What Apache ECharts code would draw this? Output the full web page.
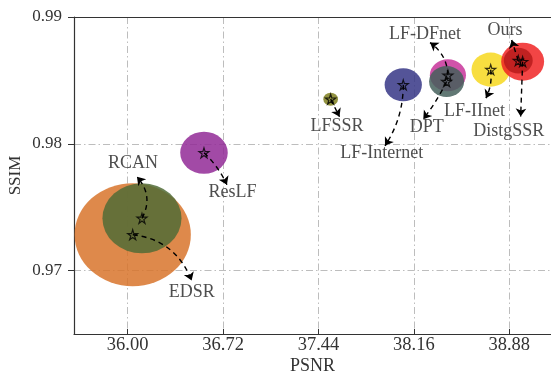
<!DOCTYPE html>
<html>
<head>
<meta charset="utf-8">
<script src="https://cdn.jsdelivr.net/npm/echarts@6/dist/echarts.min.js"></script>
<style>
  html, body { margin: 0; padding: 0; background: #fff; }
  #chart { width: 551px; height: 375px; }
</style>
</head>
<body>
<div id="chart"></div>
<script>
// Methods compared: PSNR / SSIM, bubble area ~ model size
const methods   = ['EDSR', 'RCAN', 'ResLF', 'LFSSR', 'LF-Internet', 'LF-DFnet', 'DPT', 'LF-IInet', 'DistgSSR', 'Ours'];
const psnr      = [36.038, 36.108, 36.576, 37.532, 38.080, 38.417, 38.407, 38.740, 38.981, 38.948];
const ssim      = [0.97283, 0.97412, 0.97929, 0.98352, 0.98465, 0.98541, 0.98491, 0.98585, 0.98648, 0.98656];
const modelSize = [38.9, 18.0, 6.5, 0.62, 4.0, 3.76, 3.53, 4.25, 5.3, 2.4];

// Where each method's name sits, and where its pointer arrow ends (data units)
const labelX = [36.040, 36.483, 36.791, 37.580, 37.917, 38.244, 38.257, 38.617, 38.876, 38.848];
const labelY = [0.97850, 0.96827, 0.97614, 0.98142, 0.97927, 0.98864, 0.98131, 0.98254, 0.98102, 0.98898];
const arrowX = [36.070, 36.483, 36.749, 37.599, 37.942, 38.282, 38.231, 38.704, 38.966, 38.898];
const arrowY = [0.97740, 0.96921, 0.97677, 0.98213, 0.97984, 0.98798, 0.98194, 0.98360, 0.98215, 0.98819];

const xTicks = [36.00, 36.72, 37.44, 38.16, 38.88];
const yTicks = [0.97, 0.98, 0.99];

const bubbleColors = ['#d8742c', '#516c37', '#922a96', '#7f7f1e', '#363686', '#c8349a', '#45605c', '#f7d81e', '#f02424', '#b81c1c'];
const arrowBend    = [-0.35, 0.3, 0.1, 0, 0.15, -0.25, 0.05, 0.15, 0, 0];

const labelOrder = ['RCAN', 'EDSR', 'ResLF', 'LFSSR', 'LF-Internet', 'LF-DFnet', 'DPT', 'LF-IInet', 'DistgSSR', 'Ours'];

const serif = '"Liberation Serif", "DejaVu Serif", serif';
const STAR = 'path://M50,0 L61,35 L98,35 L68,57 L79,91 L50,70 L21,91 L32,57 L2,35 L39,35 Z';

const chart = echarts.init(document.getElementById('chart'), null, { renderer: 'canvas' });

const bubbleData = methods.map((m, i) => ({
  name: m,
  value: [psnr[i], ssim[i]],
  itemStyle: { color: bubbleColors[i] }
}));

const starData = methods.map((m, i) => ({ name: m, value: [psnr[i], ssim[i]] }));

const labelData = labelOrder.map((m, i) => ({ name: m, value: [labelX[i], labelY[i]] }));

const arrowData = labelOrder.map((m, i) => {
  const k = methods.indexOf(m);
  return {
    coords: [[psnr[k], ssim[k]], [arrowX[i], arrowY[i]]],
    lineStyle: { curveness: arrowBend[i] }
  };
});

const gridDash = { color: '#bdbdbd', width: 1, type: [7, 3, 1.5, 3] };

chart.setOption({
  animation: false,
  grid: { left: 74, right: 0, top: 17, bottom: 41, containLabel: false, outerBoundsMode: 'none' },
  xAxis: [{
    type: 'value',
    min: 35.595, max: 39.195,
    name: 'PSNR', nameLocation: 'middle', nameGap: 23, nameMoveOverlap: false,
    nameTextStyle: { fontFamily: serif, fontSize: 18, color: '#333' },
    axisLine: { show: true, onZero: false, lineStyle: { color: '#333', width: 1.2 } },
    axisTick: { show: true, inside: true, length: 5, customValues: xTicks, lineStyle: { color: '#333' } },
    axisLabel: { customValues: xTicks, formatter: v => v.toFixed(2), fontFamily: serif, fontSize: 18.5, color: '#333', margin: 2 },
    splitLine: { show: true, lineStyle: gridDash }
  }, {
    type: 'value', position: 'top',
    min: 35.595, max: 39.195,
    axisLine: { show: true, onZero: false, lineStyle: { color: '#333', width: 1.2 } },
    axisTick: { show: false }, axisLabel: { show: false }, splitLine: { show: false }
  }],
  yAxis: {
    type: 'value',
    min: 0.965, max: 0.99,
    name: 'SSIM', nameLocation: 'middle', nameGap: 50, nameRotate: 90, nameMoveOverlap: false,
    nameTextStyle: { fontFamily: serif, fontSize: 17, color: '#333' },
    axisLine: { show: true, onZero: false, lineStyle: { color: '#333', width: 1.2 } },
    axisTick: { show: true, length: 6, customValues: yTicks, lineStyle: { color: '#333' } },
    axisLabel: { customValues: yTicks, formatter: v => v.toFixed(2), fontFamily: serif, fontSize: 17, color: '#333', margin: 12 },
    splitLine: { show: true, lineStyle: gridDash }
  },
  series: [
    {
      type: 'scatter',
      data: bubbleData,
      symbol: 'circle',
      symbolSize: (val, p) => {
        const h = Math.sqrt(modelSize[p.dataIndex]) * 16.5;
        return [h * 1.13, h];
      },
      itemStyle: { opacity: 0.85 },
      emphasis: { disabled: true },
      z: 2
    },
    {
      type: 'lines',
      coordinateSystem: 'cartesian2d',
      data: arrowData,
      symbol: ['none', 'arrow'],
      symbolSize: 8,
      lineStyle: { color: '#000', width: 1.4, type: [5, 4], opacity: 1 },
      emphasis: { disabled: true },
      z: 3
    },
    {
      type: 'scatter',
      data: starData,
      symbol: STAR,
      symbolSize: 10,
      itemStyle: { color: 'rgba(0,0,0,0)', borderColor: '#000', borderWidth: 1.2 },
      emphasis: { disabled: true },
      z: 4
    },
    {
      type: 'scatter',
      data: labelData,
      symbolSize: 0,
      label: {
        show: true, position: 'inside', formatter: p => p.name,
        fontFamily: serif, fontSize: 18, color: '#222'
      },
      emphasis: { disabled: true },
      z: 5
    }
  ]
});
</script>
</body>
</html>
